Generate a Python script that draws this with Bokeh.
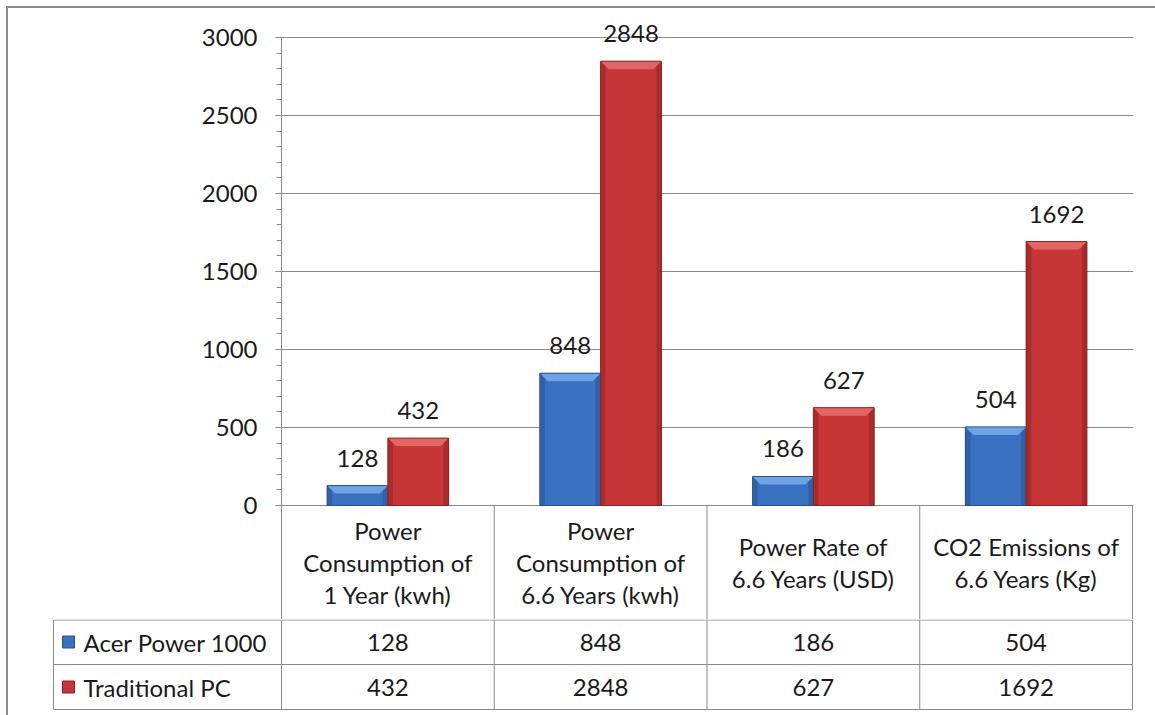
import numpy as np
from bokeh.plotting import figure
from bokeh.models import Range1d, FixedTicker, ColumnDataSource, LabelSet
from bokeh.layouts import column
from bokeh.core.properties import value
from bokeh.embed import file_html
from bokeh.resources import INLINE

# ---------------- data ----------------
categories = [
    "Power\nConsumption of\n1 Year (kwh)",
    "Power\nConsumption of\n6.6 Years (kwh)",
    "Power Rate of\n6.6 Years (USD)",
    "CO2 Emissions of\n6.6 Years (Kg)",
]
series_names = ["Acer Power 1000", "Traditional PC"]
acer = [128, 848, 186, 504]
traditional = [432, 2848, 627, 1692]
y_ticks = [0, 500, 1000, 1500, 2000, 2500, 3000]
y_minor_ticks = list(range(0, 3001, 100))

# ---------------- style ----------------
FONT = "Lato"
FS = "24px"
TEXT = "#1a1a1a"
GRID = "#8a8a8a"
BLUE, BLUE_TOP, BLUE_EDGE, BLUE_SIDE = "#3a70c0", "#6ea3e4", "#26528f", "#2f60a8"
RED, RED_TOP, RED_EDGE, RED_SIDE = "#c63636", "#e46565", "#8c2222", "#aa2b2b"

W = 1155
FIG_TOP = 12           # top of the figure's frame (room for labels)
PLOT_TOP = 37          # top of plot area (value 3000)
PLOT_H = 468           # height of value area (0..3000)
HEAD_H = 114           # category row of the table
ROW_H = 45             # each series row of the table
FRAME_W = 851
LEFT, RIGHT = 281, 22
LEG_PX = 228           # width of the legend column of the table

n = len(categories)
px = n / FRAME_W                 # data units per pixel (x)
PY = 3000 / PLOT_H               # data units per pixel (y)
xc = np.arange(n) + 0.5
bar_w = 1 / 3.5                  # Excel gap width 150%
x_acer = xc - bar_w / 2
x_trad = xc + bar_w / 2

# ---------------- chart (with category row of the table) ----------------
y_bottom = -HEAD_H * PY
y_top = 3000 + (PLOT_TOP - FIG_TOP) * PY
p = figure(width=W, height=PLOT_TOP + PLOT_H + HEAD_H,
           x_range=Range1d(0, n + px), y_range=Range1d(y_bottom, y_top),
           output_backend="svg", toolbar_location=None, x_axis_location=None,
           min_border_left=LEFT, min_border_right=RIGHT, min_border_top=FIG_TOP,
           min_border_bottom=0, outline_line_color=None, frame_align=False,
           border_fill_color=None, background_fill_color=None)
p.xgrid.visible = False
p.ygrid.ticker = FixedTicker(ticks=y_ticks)
p.ygrid.grid_line_color = GRID
p.yaxis.ticker = FixedTicker(ticks=y_ticks, minor_ticks=y_minor_ticks)
p.yaxis.bounds = (y_bottom, 3000)
p.yaxis.axis_line_color = GRID
p.yaxis.major_tick_line_color = GRID
p.yaxis.minor_tick_line_color = GRID
p.yaxis.major_tick_out = 6
p.yaxis.major_tick_in = 0
p.yaxis.minor_tick_out = 5
p.yaxis.minor_tick_in = 0
p.yaxis.major_label_text_font = FONT
p.yaxis.major_label_text_font_size = FS
p.yaxis.major_label_text_color = TEXT
p.yaxis.major_label_standoff = 18


def draw_bars(xs, vals, base, top_c, edge, side):
    vals = np.array(vals, dtype=float)
    p.vbar(x=xs, top=vals, bottom=0, width=bar_w, fill_color=base, line_color=None)
    sw = 5 * px
    p.vbar(x=xs - bar_w / 2 + sw / 2, top=vals, bottom=0, width=sw, fill_color=side, line_color=None)
    p.vbar(x=xs + bar_w / 2 - sw / 2, top=vals, bottom=0, width=sw, fill_color=side, line_color=None)
    bh = np.minimum(8 * PY, vals)
    d = 8 * px
    pxs = [[x - bar_w / 2, x + bar_w / 2, x + bar_w / 2 - d, x - bar_w / 2 + d] for x in xs]
    pys = [[v, v, v - h, v - h] for v, h in zip(vals, bh)]
    p.patches(pxs, pys, fill_color=top_c, line_color=None)
    p.vbar(x=xs, top=vals, bottom=0, width=bar_w, fill_color=None, line_color=edge, line_width=1)


draw_bars(x_acer, acer, BLUE, BLUE_TOP, BLUE_EDGE, BLUE_SIDE)
draw_bars(x_trad, traditional, RED, RED_TOP, RED_EDGE, RED_SIDE)

lab_src = ColumnDataSource(dict(
    x=list(x_acer) + list(x_trad),
    y=acer + traditional,
    t=[str(v) for v in acer + traditional],
))
p.add_layout(LabelSet(x="x", y="y", text="t", source=lab_src, text_align="center",
                      text_baseline="bottom", y_offset=19, text_font=value(FONT),
                      text_font_size=FS, text_color=TEXT))

# category cells
sep = list(range(1, n + 1))
p.segment(x0=sep, y0=[0] * n, x1=sep, y1=[y_bottom] * n, line_color=GRID, line_width=1)
p.text(x=xc, y=[y_bottom / 2] * n, text=categories, text_align="center", text_baseline="middle",
       text_line_height=1.11, text_font=value(FONT), text_font_size=FS, text_color=TEXT)

# ---------------- series rows of the table ----------------
X0 = -LEG_PX * px
TAB_H = 715 - (PLOT_TOP + PLOT_H + HEAD_H)
BOT_PAD = TAB_H - 2 * ROW_H
t = figure(width=W, height=TAB_H, x_range=Range1d(X0 - px, n + px),
           y_range=Range1d(-BOT_PAD, 2 * ROW_H),
           output_backend="svg", toolbar_location=None, x_axis_location=None, y_axis_location=None,
           min_border_left=LEFT - LEG_PX - 1, min_border_right=RIGHT, min_border_top=0,
           min_border_bottom=0, outline_line_color=None, frame_align=False,
           border_fill_color=None, background_fill_color=None)
t.grid.visible = False

y_tr, y_ac = ROW_H / 2, ROW_H * 1.5
top_line = 2 * ROW_H - 0.5
t.segment(x0=[X0, X0, X0], y0=[top_line, ROW_H, 0], x1=[n, n, n], y1=[top_line, ROW_H, 0],
          line_color=GRID, line_width=1)
vx = [X0] + list(range(n + 1))
t.segment(x0=vx, y0=[0] * len(vx), x1=vx, y1=[top_line] * len(vx), line_color=GRID, line_width=1)

t.text(x=xc, y=[y_ac] * n, text=[str(v) for v in acer], text_align="center",
       text_baseline="middle", text_font=value(FONT), text_font_size=FS, text_color=TEXT)
t.text(x=xc, y=[y_tr] * n, text=[str(v) for v in traditional], text_align="center",
       text_baseline="middle", text_font=value(FONT), text_font_size=FS, text_color=TEXT)

t.scatter(x=[X0 + 15 * px] * 2, y=[y_ac, y_tr], marker="square", size=12,
          fill_color=[BLUE, RED], line_color=[BLUE_EDGE, RED_EDGE])
t.text(x=[X0 + 30 * px] * 2, y=[y_ac, y_tr], text=series_names, text_align="left",
       text_baseline="middle", text_font=value(FONT), text_font_size=FS, text_color=TEXT)

layout = column(p, t, spacing=0,
                styles={"box-shadow": "inset 6px 6px 0 0 #ffffff, inset 8px 8px 0 0 #8c8c8c"})

open("out.html", "w").write(file_html(layout, INLINE))
